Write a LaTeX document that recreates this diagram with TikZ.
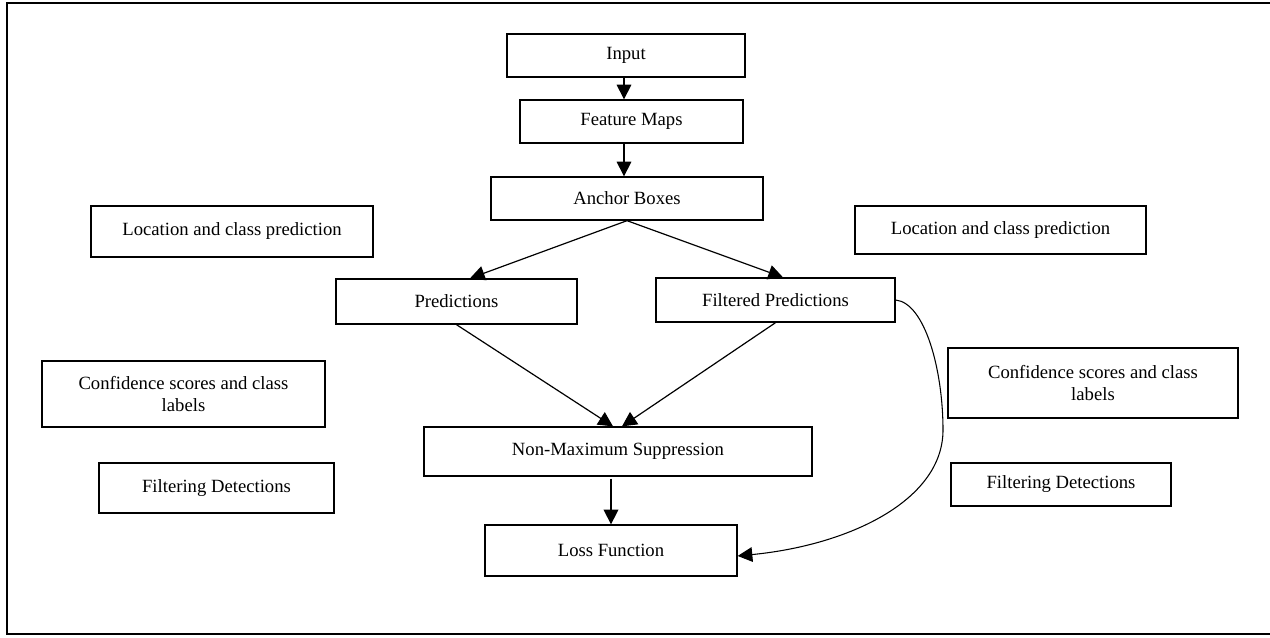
\documentclass[tikz,border=0pt]{standalone}
\usepackage{fontspec}
\setmainfont{Liberation Serif}
\usetikzlibrary{arrows.meta}
\begin{document}
\begin{tikzpicture}[x=0.75pt,y=-0.75pt,
  box/.style={draw, line width=1pt, align=center, inner sep=0pt,
    font=\fontsize{14}{16.5}\selectfont},
  arr/.style={line width=0.9pt, -{Triangle[length=11pt,width=11pt]}},
  plain/.style={line width=0.8pt}]
\useasboundingbox (0,0) rectangle (1270,637);
\draw[line width=1.6pt] (1275,3) -- (7,3) -- (7,634) -- (1275,634);

\node[box, minimum width=178.5pt, minimum height=32.25pt] (input) at (626,55.5) {Input};
\node[box, minimum width=167.25pt, minimum height=32.25pt] (feat) at (631.5,121.5) {Feature Maps};
\node[box, minimum width=204pt, minimum height=32.25pt] (anchor) at (627,198.5) {Anchor Boxes};
\node[box, minimum width=180.75pt, minimum height=33.75pt] (pred) at (456.5,301.5) {Predictions};
\node[box, minimum width=179.25pt, minimum height=33pt] (filt) at (775.5,300) {Filtered Predictions};
\node[box, minimum width=291pt, minimum height=36.75pt] (nms) at (618,451.5) {Non-Maximum Suppression};
\node[box, minimum width=189pt, minimum height=38.25pt] (loss) at (611,550.5) {Loss Function};

\node[box, minimum width=211.5pt, minimum height=38.25pt] (locl) at (232,231.5) {Location and class prediction};
\node[box, minimum width=212.25pt, minimum height=49.5pt] (confl) at (183.5,394) {Confidence scores and class\\labels};
\node[box, minimum width=176.25pt, minimum height=37.5pt] (filtl) at (216.5,488) {Filtering Detections};
\node[box, minimum width=218.25pt, minimum height=36pt] (locr) at (1000.5,230) {Location and class prediction};
\node[box, minimum width=217.5pt, minimum height=52.5pt] (confr) at (1093,383) {Confidence scores and class\\labels};
\node[box, minimum width=165pt, minimum height=32.25pt] (filtr) at (1061,484.5) {Filtering Detections};

\coordinate (ax) at (624,0);
\coordinate (px) at (470,0);
\coordinate (fx) at (783,0);
\coordinate (n1) at (613,0);
\coordinate (n2) at (622,0);
\coordinate (lx) at (611,0);

\draw[arr] (input.south -| ax) -- (feat.north -| ax);
\draw[arr] (feat.south -| ax) -- (anchor.north -| ax);
\draw[arr] (anchor.south) -- (pred.north -| px);
\draw[arr] (anchor.south) -- (filt.north -| fx);
\draw[arr] (pred.south) -- (nms.north -| n1);
\draw[arr] (filt.south) -- (nms.north -| n2);
\draw[arr, line width=1.1pt] ([yshift=-1.5pt]nms.south -| lx) -- (loss.north -| lx);
\draw[arr, line width=0.8pt] (filt.east) .. controls (925,303) and (943,370) .. (943,430)
  .. controls (943,500) and (850,545) .. ([yshift=-4.1pt]loss.east);
\end{tikzpicture}
\end{document}
